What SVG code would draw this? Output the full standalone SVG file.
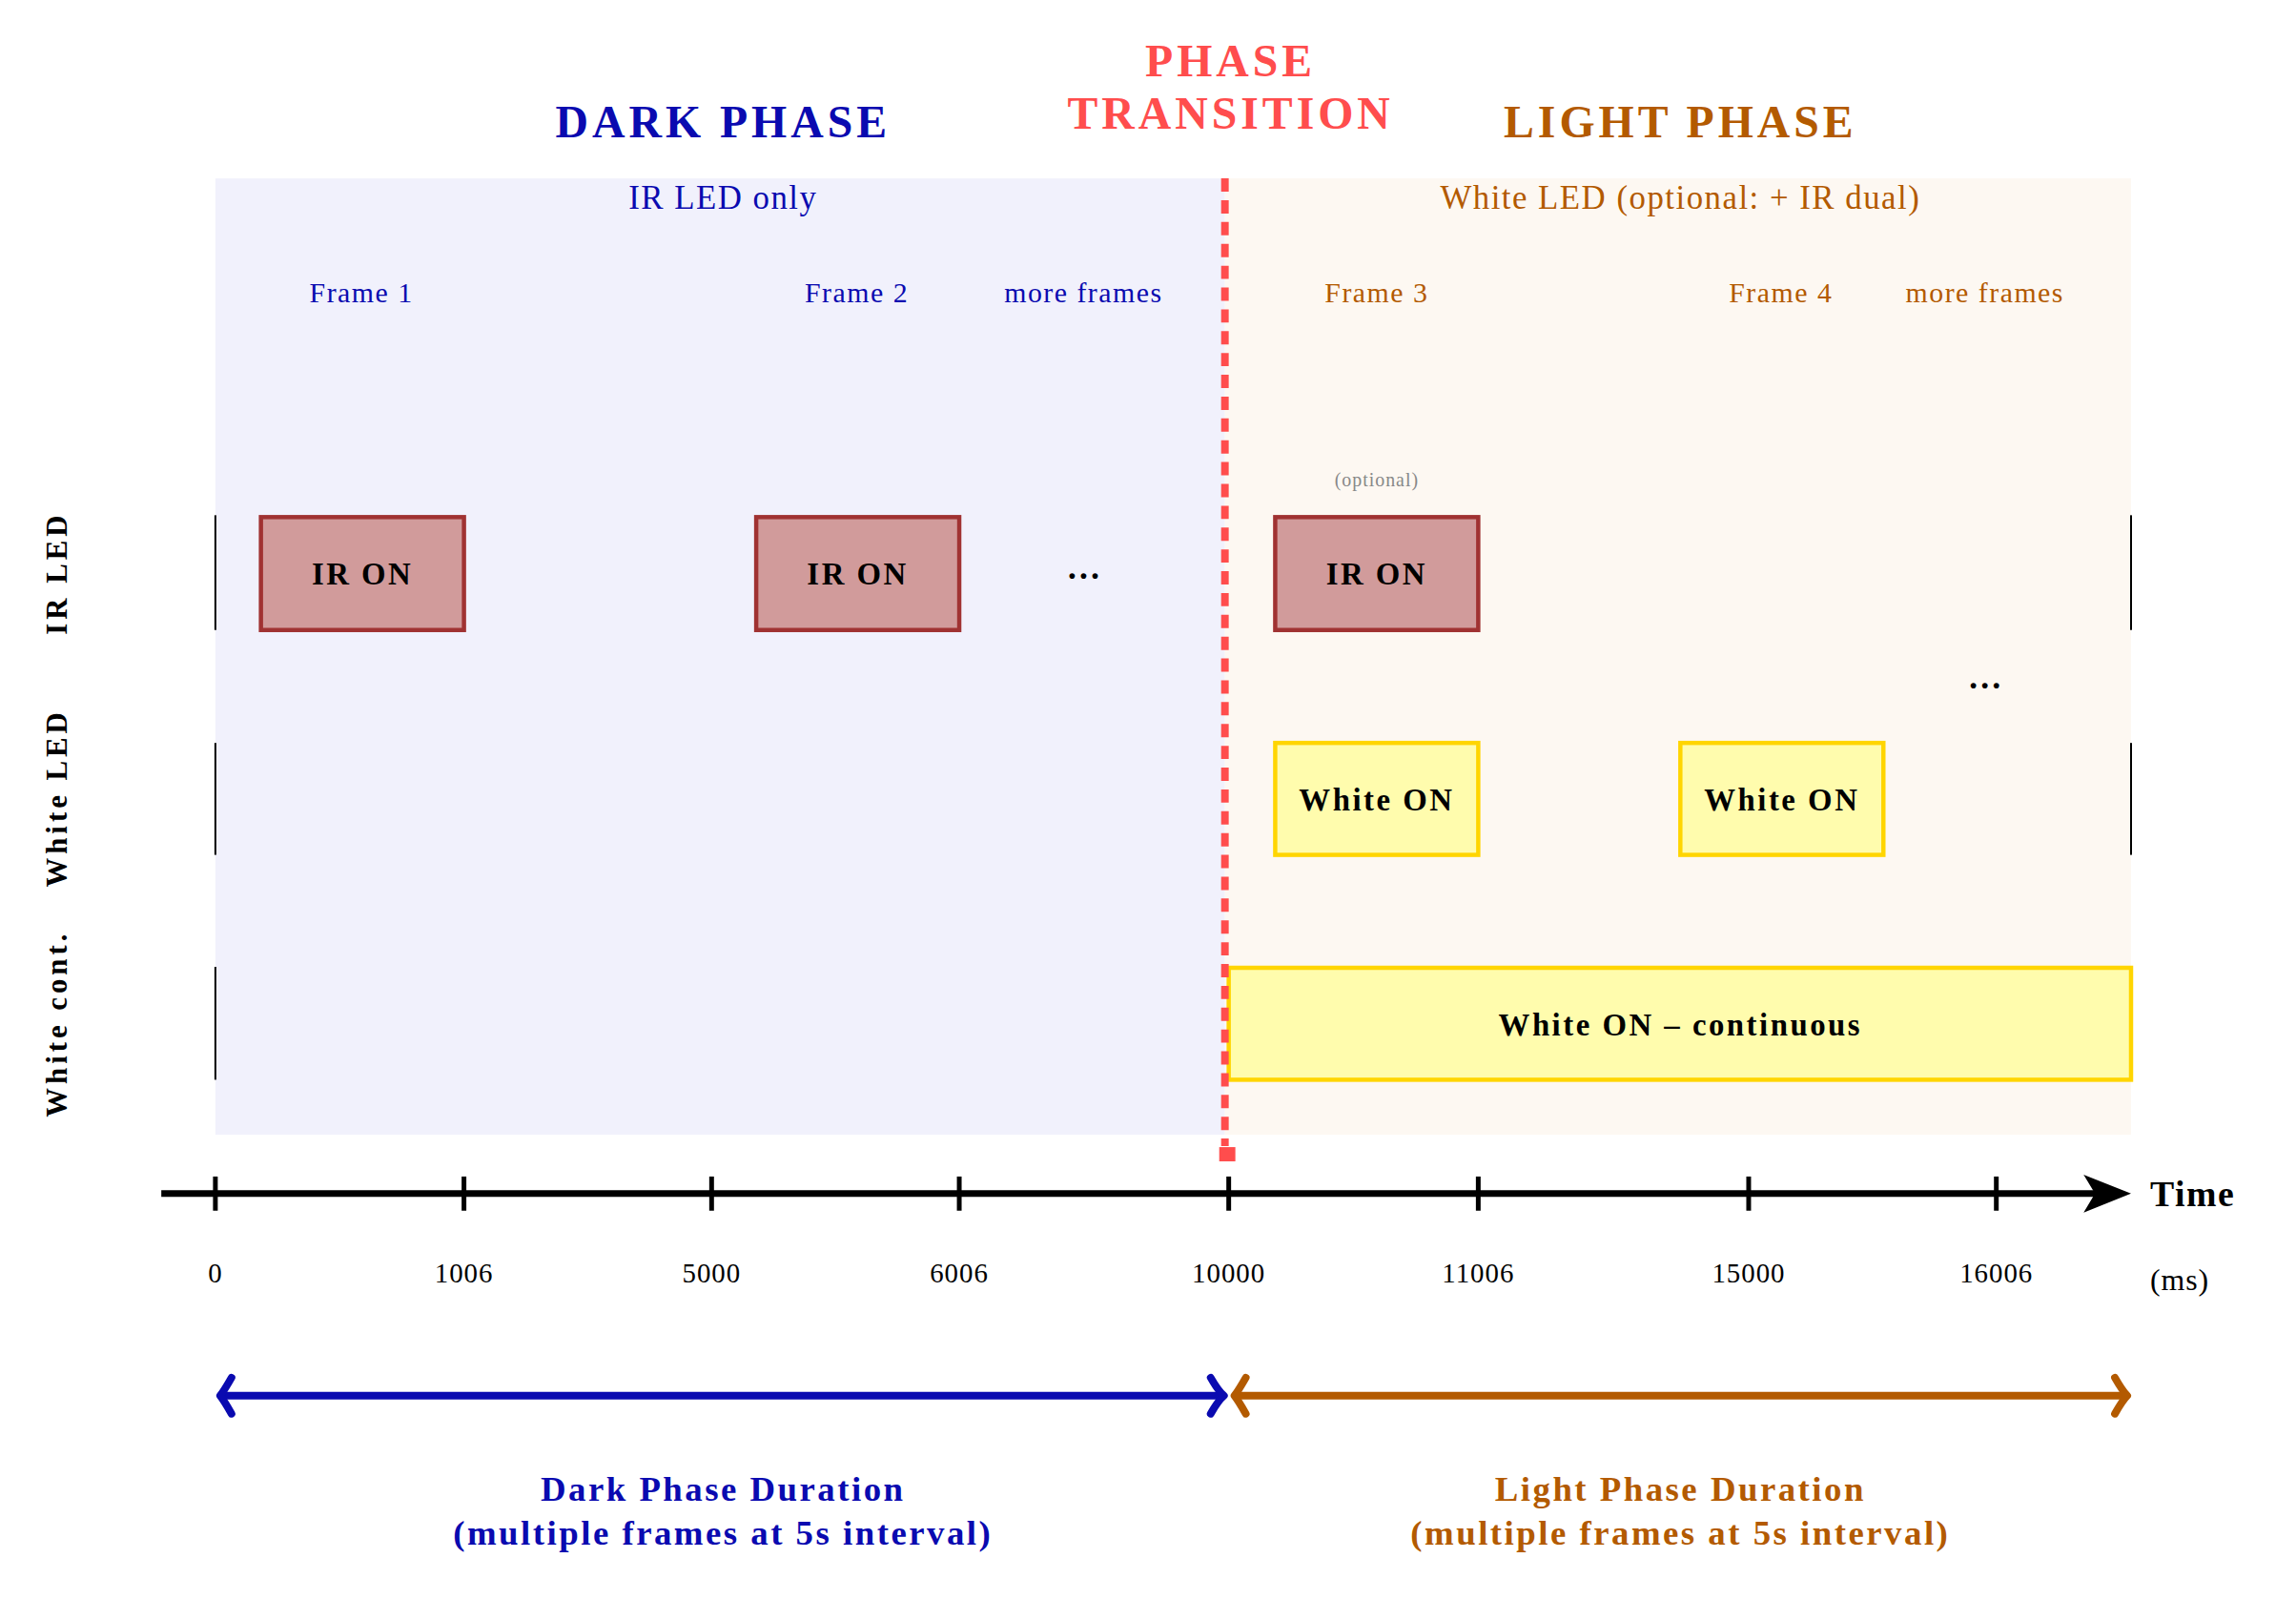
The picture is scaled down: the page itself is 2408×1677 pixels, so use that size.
<svg xmlns="http://www.w3.org/2000/svg" width="2408" height="1677" viewBox="0 0 2408 1677">
<style>
text{font-family:"Liberation Serif","DejaVu Serif",serif;}
.b{font-weight:bold}
.blue{fill:#0a0ab0}
.brown{fill:#b35a00}
.ir rect{fill:#d19b9b;stroke:#a03232;stroke-width:4.5}
.wh rect{fill:#fffcad;stroke:#ffd500;stroke-width:4.5}
.lbl{font-size:33px;font-weight:bold;text-anchor:middle;letter-spacing:2.5px}
.fr{font-size:30px;text-anchor:middle;letter-spacing:1.5px}
.tk{font-size:29px;text-anchor:middle;letter-spacing:1px}
.lane{stroke:#000;stroke-width:2}
</style>
<rect width="2408" height="1677" fill="#fff"/>
<g transform="scale(0.9951)">
<g id="backgrounds">
<rect x="227" y="188" width="1064" height="1008" fill="#f1f1fc"/>
<rect x="1291" y="188" width="955" height="1008" fill="#fdf8f2"/>
</g>
<g id="titles" class="b" text-anchor="middle" font-size="48" letter-spacing="4">
<text x="762" y="145" class="blue">DARK PHASE</text>
<text x="1297" y="80" fill="#ff4d4d">PHASE</text>
<text x="1297" y="136" fill="#ff4d4d">TRANSITION</text>
<text x="1771" y="145" class="brown">LIGHT PHASE</text>
</g>
<g id="subtitles" font-size="35" text-anchor="middle" letter-spacing="1.5">
<text x="762" y="220" class="blue">IR LED only</text>
<text x="1771" y="220" class="brown">White LED (optional: + IR dual)</text>
</g>
<g id="frames">
<text x="381" y="319" class="fr blue">Frame 1</text>
<text x="903" y="319" class="fr blue">Frame 2</text>
<text x="1142" y="319" class="fr blue">more frames</text>
<text x="1451" y="319" class="fr brown">Frame 3</text>
<text x="1877" y="319" class="fr brown">Frame 4</text>
<text x="2092" y="319" class="fr brown">more frames</text>
</g>
<g id="row-labels" class="b" font-size="31" text-anchor="middle" letter-spacing="4">
<text transform="translate(70,604) rotate(-90)">IR LED</text>
<text transform="translate(70,841) rotate(-90)">White LED</text>
<text transform="translate(70,1079) rotate(-90)">White cont.</text>
</g>
<g id="lanes">
<line class="lane" x1="227" y1="543" x2="227" y2="664"/>
<line class="lane" x1="227" y1="783" x2="227" y2="901"/>
<line class="lane" x1="227" y1="1019" x2="227" y2="1138"/>
<line class="lane" x1="2246" y1="543" x2="2246" y2="664"/>
<line class="lane" x1="2246" y1="783" x2="2246" y2="901"/>
</g>
<g id="ir1" class="ir"><rect x="275" y="545" width="214" height="119"/><text x="382" y="616" class="lbl">IR ON</text></g>
<g id="ir2" class="ir"><rect x="797" y="545" width="214" height="119"/><text x="904" y="616" class="lbl">IR ON</text></g>
<g id="ir3" class="ir"><rect x="1344" y="545" width="214" height="119"/><text x="1451" y="616" class="lbl">IR ON</text></g>
<text x="1451" y="513" font-size="20" text-anchor="middle" fill="#888" letter-spacing="1">(optional)</text>
<text x="1142" y="610" font-size="36" text-anchor="middle" class="b">…</text>
<text x="2092" y="726" font-size="36" text-anchor="middle" class="b">…</text>
<g id="wh1" class="wh"><rect x="1344" y="783" width="214" height="118"/><text x="1451" y="854" class="lbl" letter-spacing="1">White ON</text></g>
<g id="wh2" class="wh"><rect x="1771" y="783" width="214" height="118"/><text x="1878" y="854" class="lbl" letter-spacing="1">White ON</text></g>
<g id="whc" class="wh"><rect x="1295" y="1020" width="951" height="118"/><text x="1771" y="1091" class="lbl" letter-spacing="1.5">White ON – continuous</text></g>
<g id="connectors">
<line x1="1291" y1="188" x2="1291" y2="1208" stroke="#ff4d4d" stroke-width="8" stroke-dasharray="14,9"/>
<rect x="1285" y="1209" width="17" height="15" fill="#ff4d4d"/>
<line x1="170" y1="1258" x2="2210" y2="1258" stroke="#000" stroke-width="7"/>
<path d="M2196,1238L2246,1258L2196,1278L2208,1258z" fill="#000"/>
<g stroke="#000" stroke-width="5">
<line x1="227" y1="1240" x2="227" y2="1276"/><line x1="489" y1="1240" x2="489" y2="1276"/>
<line x1="750" y1="1240" x2="750" y2="1276"/><line x1="1011" y1="1240" x2="1011" y2="1276"/>
<line x1="1295" y1="1240" x2="1295" y2="1276"/><line x1="1558" y1="1240" x2="1558" y2="1276"/>
<line x1="1843" y1="1240" x2="1843" y2="1276"/><line x1="2104" y1="1240" x2="2104" y2="1276"/>
</g>
<g fill="none" stroke-width="8" stroke-linecap="round" stroke-linejoin="round">
<g stroke="#0a0ab0"><line x1="235" y1="1471" x2="1285" y2="1471"/><path d="M244,1452Q236,1466 232,1471Q236,1476 244,1490"/><path d="M1276,1452Q1284,1466 1290,1471Q1284,1476 1276,1490"/></g>
<g stroke="#b35a00"><line x1="1304" y1="1471" x2="2238" y2="1471"/><path d="M1313,1452Q1305,1466 1301,1471Q1305,1476 1313,1490"/><path d="M2229,1452Q2237,1466 2242,1471Q2237,1476 2229,1490"/></g>
</g>
</g>
<g id="ticklabels">
<text x="227" y="1352" class="tk">0</text><text x="489" y="1352" class="tk">1006</text>
<text x="750" y="1352" class="tk">5000</text><text x="1011" y="1352" class="tk">6006</text>
<text x="1295" y="1352" class="tk">10000</text><text x="1558" y="1352" class="tk">11006</text>
<text x="1843" y="1352" class="tk">15000</text><text x="2104" y="1352" class="tk">16006</text>
<text x="2266" y="1271" font-size="38" class="b" letter-spacing="1.5">Time</text>
<text x="2266" y="1360" font-size="32" letter-spacing="1">(ms)</text>
</g>
<g id="durations" class="b" font-size="37" text-anchor="middle" letter-spacing="2.5">
<text x="762" y="1582" class="blue">Dark Phase Duration</text>
<text x="762" y="1628" class="blue">(multiple frames at 5s interval)</text>
<text x="1771" y="1582" class="brown">Light Phase Duration</text>
<text x="1771" y="1628" class="brown">(multiple frames at 5s interval)</text>
</g>
</g>
</svg>
